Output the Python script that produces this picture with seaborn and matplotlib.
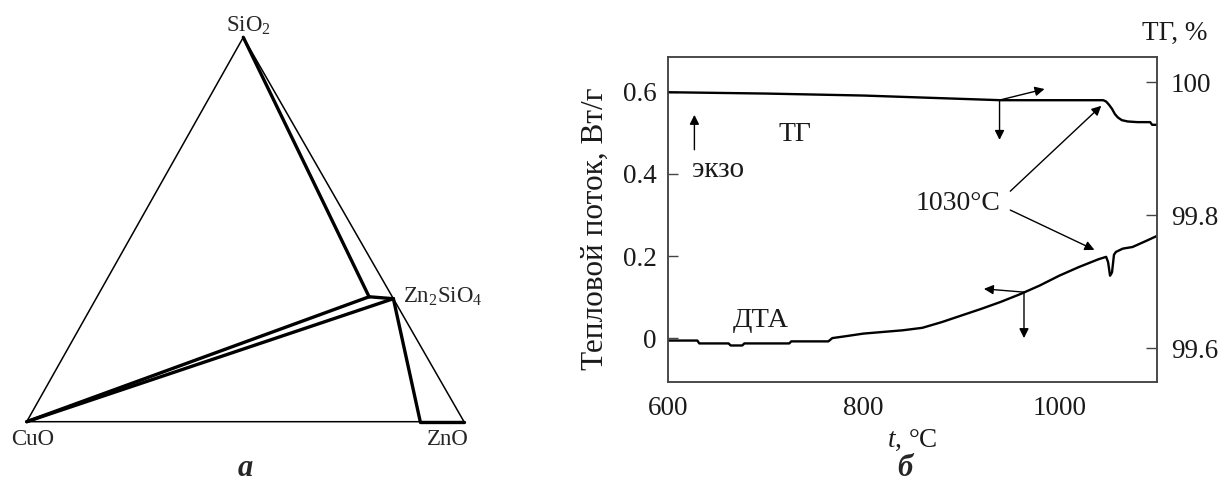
import numpy as np
import pandas as pd
import matplotlib
matplotlib.use("Agg")
import matplotlib.pyplot as plt
import seaborn as sns

# ---------------- data ----------------
# DTA curve (heat flow, W/g) vs temperature
dta_t = [600, 630, 632, 662, 664, 676, 678, 724, 726, 764, 768, 780, 800, 820, 840,
         860, 880, 900, 920, 940, 960, 980, 1000, 1020, 1040, 1048, 1050, 1052, 1054,
         1056, 1058, 1065, 1075, 1090, 1100]
dta_v = [-0.006, -0.006, -0.013, -0.013, -0.018, -0.018, -0.013, -0.013, -0.008, -0.008,
         0.000, 0.004, 0.011, 0.015, 0.019, 0.025, 0.039, 0.055, 0.071, 0.088, 0.107,
         0.128, 0.152, 0.173, 0.192, 0.198, 0.185, 0.152, 0.160, 0.203, 0.210, 0.218,
         0.222, 0.238, 0.249]
# TG curve (mass, %) vs temperature
tg_t = [600, 700, 800, 900, 940, 1045, 1048, 1051, 1054, 1057, 1060, 1064, 1070, 1080,
        1093, 1095, 1100]
tg_v = [99.985, 99.983, 99.980, 99.975, 99.973, 99.973, 99.971, 99.966, 99.960, 99.952,
        99.947, 99.943, 99.941, 99.940, 99.940, 99.936, 99.936]

x_ticks = [600, 800, 1000]
left_ticks = [0, 0.2, 0.4, 0.6]
left_tick_labels = ["0", "0.2", "0.4", "0.6"]
right_ticks = [99.6, 99.8, 100]
right_tick_labels = ["99.6", "99.8", "100"]

# Ternary diagram: compositions (CuO, ZnO, SiO2) fractions
tern_components = ["CuO", "ZnO", "SiO$_2$"]
p_zn2sio4 = (0.0, 0.68, 0.32)
p_inner = (0.053, 0.622, 0.325)
p_zno_ss = (0.10, 0.90, 0.0)

# ---------------- style ----------------
sns.set_theme(style="white")
plt.rcParams["font.family"] = ["Liberation Serif", "DejaVu Serif"]
plt.rcParams["mathtext.fontset"] = "custom"
plt.rcParams["mathtext.rm"] = "Liberation Serif"
plt.rcParams["mathtext.it"] = "Liberation Serif:italic"
plt.rcParams["mathtext.bf"] = "Liberation Serif:bold"

W, H = 1224, 484
fig = plt.figure(figsize=(W / 100, H / 100), dpi=100)

# ---------------- panel a: ternary ----------------
ax0 = fig.add_axes([0, 0, 0.5, 1])
ax0.set_xlim(0, W / 2)
ax0.set_ylim(H, 0)
ax0.axis("off")

V = np.array([[26.7, 421.7],   # CuO
              [464.0, 421.7],  # ZnO
              [243.3, 37.3]])  # SiO2


def tern(p):
    p = np.asarray(p, float)
    return p @ V


cu, zn, si = tern((1, 0, 0)), tern((0, 1, 0)), tern((0, 0, 1))
zs = tern(p_zn2sio4)
inn = tern(p_inner)
zss = tern(p_zno_ss)

thin = dict(color="black", lw=1.1, solid_capstyle="round")
thick = dict(color="black", lw=2.4, solid_capstyle="round", solid_joinstyle="round")
ax0.plot([cu[0], si[0], zn[0], cu[0]], [cu[1], si[1], zn[1], cu[1]], **thin)
ax0.plot([si[0], inn[0]], [si[1], inn[1]], **thick)
ax0.plot([inn[0], zs[0]], [inn[1], zs[1]], **thick)
ax0.plot([cu[0], inn[0]], [cu[1], inn[1]], **thick)
ax0.plot([cu[0], zs[0]], [cu[1], zs[1]], **thick)
ax0.plot([zs[0], zss[0]], [zs[1], zss[1]], **thick)
ax0.plot([zss[0], zn[0]], [zss[1], zn[1]], **thick)

fs_t = 16.5
ax0.text(si[0] + 5, si[1] - 11, "SiO$_2$", ha="center", va="center", fontsize=fs_t)
ax0.text(zs[0] + 10, zs[1] - 2, "Zn$_2$SiO$_4$", ha="left", va="center", fontsize=fs_t)
ax0.text(cu[0] + 6, cu[1] + 18, "CuO", ha="center", va="center", fontsize=fs_t)
ax0.text(zn[0] - 16, zn[1] + 18, "ZnO", ha="center", va="center", fontsize=fs_t)

fig.text(245 / W, 1 - 468 / H, "а", ha="center", va="center", fontsize=22,
         fontweight="bold", fontstyle="italic")
fig.text(905 / W, 1 - 468 / H, "б", ha="center", va="center", fontsize=22,
         fontweight="bold", fontstyle="italic")

# ---------------- panel b: DTA / TG ----------------
L, R, T, B = 668, 1157, 57, 382
ax = fig.add_axes([L / W, 1 - B / H, (R - L) / W, (B - T) / H])
ax2 = ax.twinx()

df_dta = pd.DataFrame({"t": dta_t, "v": dta_v})
df_tg = pd.DataFrame({"t": tg_t, "v": tg_v})
sns.lineplot(data=df_dta, x="t", y="v", ax=ax, color="black", lw=1.7,
             estimator=None, sort=False)
sns.lineplot(data=df_tg, x="t", y="v", ax=ax2, color="black", lw=1.7,
             estimator=None, sort=False)

ax.set_xlim(600, 1100)
ax.set_ylim(-0.107, 0.685)
ax2.set_ylim(99.549, 100.038)
ax.set_xticks(x_ticks)
ax.set_xticklabels([str(v) for v in x_ticks])
ax.set_yticks(left_ticks)
ax.set_yticklabels(left_tick_labels)
ax2.set_yticks(right_ticks)
ax2.set_yticklabels(right_tick_labels)
ax.set_xlabel("")
ax.set_ylabel("")
ax2.set_xlabel("")
ax2.set_ylabel("")

for a in (ax, ax2):
    for s in a.spines.values():
        s.set_color("#444444")
        s.set_linewidth(1.1)
ax.tick_params(axis="both", direction="in", length=7, width=1, color="#444444",
               labelsize=19.5, pad=8, labelcolor="#1a1a1a")
ax.tick_params(axis="y", pad=8)
ax.tick_params(axis="x", pad=10)
ax2.tick_params(axis="y", direction="in", length=8, width=1, color="#444444",
                labelsize=19.5, pad=10, labelcolor="#1a1a1a")

ax.text(-0.148, 0.47, "Тепловой поток, Вт/г", transform=ax.transAxes, rotation=90,
        ha="center", va="center", fontsize=22.5, color="#1a1a1a")
ax.text(1.037, 1.074, "ТГ, %", transform=ax.transAxes, ha="center", va="center",
        fontsize=19.5, color="#1a1a1a")
ax.text(0.5, -0.18, "$t$, °C", transform=ax.transAxes, ha="center", va="center",
        fontsize=19.5, color="#1a1a1a")

arr = dict(arrowstyle="-|>", color="black", lw=1.0, mutation_scale=14,
           shrinkA=0, shrinkB=0)
# TG arrows
ax.annotate("", xy=(985, 0.607), xytext=(939, 0.580), arrowprops=arr)
ax.annotate("", xy=(939, 0.483), xytext=(939, 0.580), arrowprops=arr)
# DTA arrows
ax.annotate("", xy=(923, 0.120), xytext=(964, 0.112), arrowprops=arr)
ax.annotate("", xy=(964, 0.000), xytext=(964, 0.112), arrowprops=arr)
# exo arrow
ax.annotate("", xy=(627, 0.544), xytext=(627, 0.459), arrowprops=arr)
ax.text(651, 0.41, "экзо", ha="center", va="center", fontsize=21, color="#1a1a1a")
ax.text(730, 0.495, "ТГ", ha="center", va="center", fontsize=20, color="#1a1a1a")
ax.text(695, 0.044, "ДТА", ha="center", va="center", fontsize=20.5, color="#1a1a1a")
# 1030 °C
ax.text(897, 0.329, "1030°C", ha="center", va="center", fontsize=20, color="#1a1a1a")
ax.annotate("", xy=(1043, 0.566), xytext=(950, 0.358), arrowprops=arr)
ax.annotate("", xy=(1036, 0.215), xytext=(950, 0.312), arrowprops=arr)

fig.savefig("out.png", dpi=100, facecolor="white")
